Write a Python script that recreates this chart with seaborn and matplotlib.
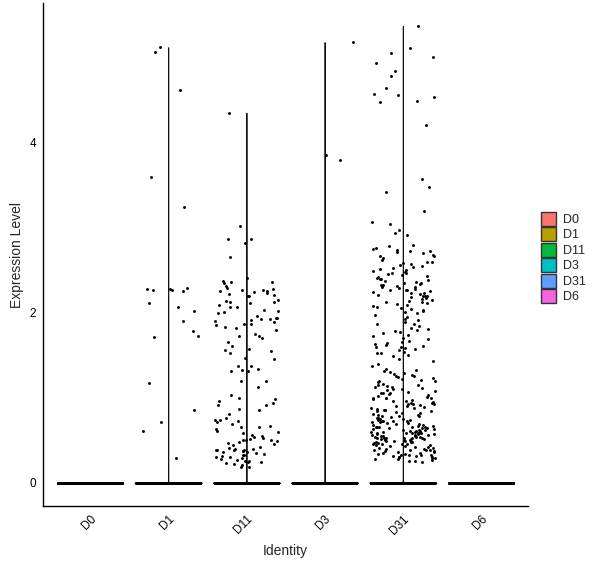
import numpy as np
import pandas as pd
import matplotlib
matplotlib.use("Agg")
import matplotlib.pyplot as plt
from matplotlib.patches import Patch
import seaborn as sns

identities = ["D0", "D1", "D11", "D3", "D31", "D6"]
ident_colors = ["#F8766D", "#B79F00", "#00BA38", "#00BFC4", "#619CFF", "#F564E3"]

# cells with zero expression in each identity
zero_counts = [500, 450, 500, 450, 600, 500]

# non-zero expression values
d0_expr = []
d1_expr = [5.12, 5.06, 4.62, 3.59, 3.24, 2.29, 2.28, 2.28, 2.27, 2.26, 2.25, 2.11,
           2.06, 2.02, 1.90, 1.78, 1.73, 1.71, 1.17, 0.86, 0.71, 0.61, 0.29]
d11_expr = [4.35, 3.02, 2.86, 2.82, 2.86, 2.65,
            2.41, 2.37, 2.36, 2.36, 2.35, 2.31, 2.29, 2.28, 2.27, 2.26, 2.25, 2.25, 2.24,
            2.23, 2.22, 2.21, 2.20, 2.19,
            2.15, 2.14, 2.13, 2.12, 2.11, 2.09, 2.07, 2.06, 2.03, 2.02,
            2.01, 1.99, 1.96, 1.94, 1.94, 1.93, 1.92, 1.91, 1.90, 1.89,
            1.87, 1.86, 1.85, 1.83, 1.82, 1.80,
            1.75, 1.73, 1.72, 1.70, 1.66,
            1.61, 1.57, 1.56, 1.55, 1.52, 1.47, 1.45,
            1.37, 1.37, 1.34, 1.33, 1.31, 1.31,
            1.20, 1.19, 1.13, 1.03, 0.99, 0.98, 0.96, 0.94, 0.91, 0.91,
            0.87, 0.85, 0.81,
            0.76, 0.74, 0.74, 0.73, 0.71, 0.69, 0.67, 0.66, 0.65, 0.63, 0.61,
            0.60, 0.59, 0.56, 0.55, 0.54, 0.53, 0.51, 0.50, 0.50, 0.50, 0.49, 0.48,
            0.47, 0.45, 0.44,
            0.42, 0.41, 0.40, 0.40, 0.39, 0.39, 0.38, 0.38, 0.37, 0.37, 0.36, 0.36,
            0.35, 0.34, 0.33, 0.32, 0.31, 0.30, 0.30, 0.29, 0.28,
            0.27, 0.26, 0.25, 0.24, 0.24, 0.23, 0.22, 0.21, 0.19, 0.18]
d3_expr = [5.18, 3.85, 3.79]
d31_expr = [5.37, 5.11, 5.05, 5.01, 4.94, 4.84, 4.78, 4.64, 4.57, 4.56, 4.54, 4.49,
            4.48, 4.20, 3.57, 3.48, 3.42, 3.20, 3.07, 3.04, 2.97, 2.93, 2.91,
            2.79, 2.78, 2.76, 2.75, 2.74, 2.73, 2.72, 2.71, 2.70, 2.68, 2.67, 2.66,
            2.64, 2.62, 2.60,
            2.59, 2.58, 2.57, 2.56, 2.55, 2.54, 2.52, 2.51, 2.50, 2.49, 2.48, 2.47,
            2.46, 2.45, 2.44, 2.43, 2.42, 2.41, 2.40, 2.39, 2.38, 2.37,
            2.36, 2.35, 2.35, 2.34, 2.33, 2.32, 2.31, 2.30, 2.30, 2.29, 2.28, 2.27,
            2.27, 2.26, 2.25, 2.24, 2.23, 2.23, 2.22, 2.21, 2.20, 2.19, 2.19, 2.18, 2.17,
            2.16, 2.15, 2.14, 2.13, 2.12, 2.11, 2.10, 2.09, 2.08, 2.07, 2.05, 2.04,
            2.03, 2.02, 2.01,
            1.99, 1.97, 1.95, 1.93, 1.91, 1.89, 1.87, 1.86,
            1.84, 1.82, 1.81, 1.79, 1.78, 1.77, 1.76, 1.74, 1.72, 1.70, 1.69, 1.67,
            1.66, 1.64, 1.63,
            1.62, 1.61, 1.60, 1.59, 1.58, 1.57, 1.56, 1.54, 1.53, 1.52, 1.50, 1.49,
            1.46, 1.43, 1.40, 1.37, 1.34,
            1.32, 1.31, 1.30, 1.29, 1.28, 1.27, 1.26, 1.25, 1.24, 1.23, 1.22, 1.21,
            1.20, 1.19, 1.18,
            1.16, 1.15, 1.15, 1.14, 1.13, 1.12, 1.11, 1.10, 1.10, 1.09, 1.08, 1.07,
            1.06, 1.05, 1.05, 1.04, 1.03, 1.02, 1.01, 1.00, 1.00, 0.99, 0.99, 0.98, 0.97,
            0.96, 0.96, 0.95, 0.94, 0.94, 0.93, 0.92, 0.92, 0.91, 0.90, 0.90, 0.89,
            0.88, 0.88, 0.87, 0.86, 0.86, 0.85, 0.84, 0.84, 0.83, 0.82, 0.82, 0.81,
            0.80, 0.80, 0.79, 0.78, 0.78, 0.77,
            0.76, 0.76, 0.75, 0.75, 0.74, 0.74, 0.73, 0.73, 0.72, 0.72, 0.71, 0.71,
            0.70, 0.70, 0.69, 0.69, 0.68, 0.68, 0.67, 0.67, 0.66, 0.66, 0.66, 0.65,
            0.65, 0.64, 0.64, 0.64, 0.63, 0.63, 0.62, 0.62, 0.62, 0.61, 0.61, 0.61,
            0.60, 0.60, 0.60, 0.59, 0.59, 0.59, 0.58, 0.58, 0.58,
            0.57, 0.57, 0.57, 0.56, 0.56, 0.56, 0.55, 0.55, 0.55, 0.54, 0.54, 0.54,
            0.53, 0.53, 0.53, 0.52, 0.52, 0.52, 0.51, 0.51, 0.51, 0.50, 0.50, 0.50,
            0.49, 0.49, 0.49, 0.48, 0.48, 0.48, 0.47, 0.47, 0.46, 0.46, 0.45, 0.45,
            0.44, 0.44, 0.43, 0.43, 0.42, 0.42, 0.41, 0.41, 0.40, 0.40, 0.39, 0.39,
            0.38, 0.38,
            0.37, 0.37, 0.36, 0.36, 0.35, 0.35, 0.34, 0.34, 0.33, 0.33, 0.32, 0.32,
            0.31, 0.31, 0.30, 0.30, 0.30, 0.29, 0.29, 0.28, 0.28, 0.27, 0.26, 0.25, 0.24]
d6_expr = []

nonzero = [d0_expr, d1_expr, d11_expr, d3_expr, d31_expr, d6_expr]

rows = []
for ident, nz, vals in zip(identities, zero_counts, nonzero):
    for v in [0.0] * nz + list(vals):
        rows.append((ident, v))
df = pd.DataFrame(rows, columns=["Identity", "expr"])

sns.set_style("white")
plt.rcParams["font.family"] = ["Liberation Sans", "DejaVu Sans"]
np.random.seed(3)

fig = plt.figure(figsize=(6, 5.68), dpi=100)
ax = fig.add_axes([43 / 600, 62 / 568, 485 / 600, 503 / 568])

# groups with only zeros have no violin
has_spread = [i for i, vals in zip(identities, nonzero) if len(vals) > 0]
vdf = df[df["Identity"].isin(has_spread)]
sns.violinplot(data=vdf, x="Identity", y="expr", hue="Identity",
               order=identities, hue_order=identities,
               palette=dict(zip(identities, ident_colors)),
               density_norm="width", cut=0, inner=None, width=0.86,
               bw_method=0.004, gridsize=3000, saturation=1,
               linewidth=0.7, linecolor="#111111", legend=False, ax=ax)

sns.stripplot(data=df, x="Identity", y="expr", order=identities,
              color="black", size=2.1, jitter=0.41, linewidth=0, ax=ax)

ax.set_xlim(-0.6, 5.6)
ax.set_ylim(-0.274, 5.64)
ax.set_yticks([0, 2, 4])
ax.set_yticklabels(["0", "2", "4"])
ax.set_xlabel("Identity", fontsize=10, labelpad=5)
ax.set_ylabel("Expression Level", fontsize=10, labelpad=4)
sns.despine(ax=ax)
for side in ["left", "bottom"]:
    ax.spines[side].set_linewidth(1.0)
    ax.spines[side].set_color("black")
ax.tick_params(axis="both", length=3, width=0.8, color="black",
               labelsize=8.5, labelcolor="black", pad=2)
plt.setp(ax.get_xticklabels(), rotation=45, ha="right", va="top",
         rotation_mode="anchor")

handles = [Patch(facecolor=c, edgecolor="#333333", linewidth=1.0) for c in ident_colors]
fig.legend(handles, identities, loc="upper left",
           bbox_to_anchor=(541 / 600, 1 - 212 / 568), frameon=False,
           fontsize=9, handlelength=1.2, handleheight=1.3,
           labelspacing=0.12, handletextpad=0.55, borderpad=0, borderaxespad=0)

fig.savefig("out.png", dpi=100)
